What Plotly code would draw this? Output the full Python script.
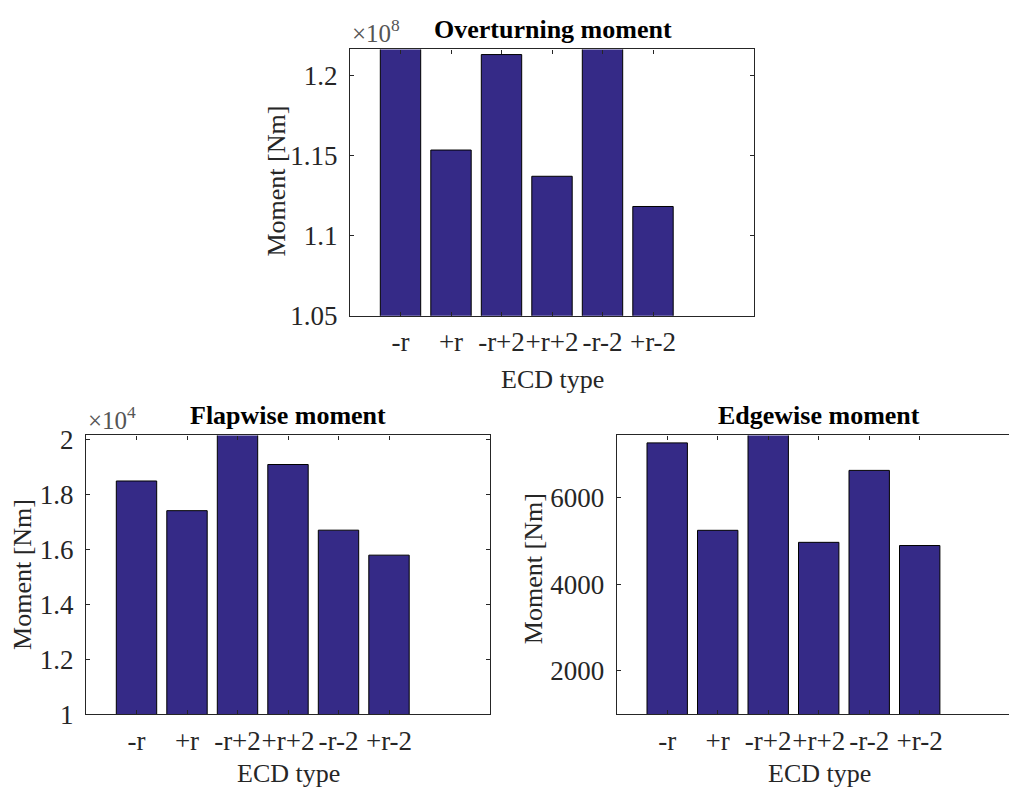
import plotly.graph_objects as go

categories = ["-r", "+r", "-r+2", "+r+2", "-r-2", "+r-2"]
overturning = [1.2250e8, 1.1536e8, 1.2133e8, 1.1372e8, 1.2250e8, 1.1183e8]
flapwise = [1.849e4, 1.741e4, 2.050e4, 1.909e4, 1.670e4, 1.579e4]
edgewise = [7272, 5251, 7600, 4973, 6636, 4899]

W, H = 1009, 807
FONT = "Liberation Serif"
TXT = "#262626"
BAR = "#352a87"
TICK = 27

xs = list(range(1, len(categories) + 1))

def px(x):
    return x / W

def py(y):
    return 1 - y / H

fig = go.Figure()
fig.add_trace(go.Bar(x=xs, y=[v / 1e8 for v in overturning], width=0.8,
                     marker=dict(color=BAR, line=dict(color="black", width=1)),
                     xaxis="x", yaxis="y"))
fig.add_trace(go.Bar(x=xs, y=[v / 1e4 for v in flapwise], width=0.8,
                     marker=dict(color=BAR, line=dict(color="black", width=1)),
                     xaxis="x2", yaxis="y2"))
fig.add_trace(go.Bar(x=xs, y=edgewise, width=0.8,
                     marker=dict(color=BAR, line=dict(color="black", width=1)),
                     xaxis="x3", yaxis="y3"))

def xax(domain, anchor):
    return dict(domain=domain, anchor=anchor, range=[0, 8], tickvals=xs, ticktext=categories,
                showline=True, linecolor=TXT, linewidth=1.2, mirror="ticks",
                ticks="inside", ticklen=4, tickcolor=TXT, showgrid=False, zeroline=False,
                tickangle=0,
                tickfont=dict(family=FONT, size=TICK, color=TXT), ticklabelstandoff=2)

def yax(domain, anchor, rng, tv, tt, mirror="ticks"):
    return dict(domain=domain, anchor=anchor, range=rng, tickvals=tv, ticktext=tt,
                showline=True, linecolor=TXT, linewidth=1.2, mirror=mirror,
                ticks="inside", ticklen=4, tickcolor=TXT, showgrid=False, zeroline=False,
                tickfont=dict(family=FONT, size=TICK, color=TXT), ticklabelstandoff=6)

top_x = [px(350), px(754)]
top_y = [py(315.5), py(40.7)]
fl_x = [px(86), px(490)]
bot_y = [py(726.7), py(439)]
ed_x = [px(616.7), 1.0]
ed_right = (1009 - 616.7) / 50.5

fig.update_layout(
    width=W, height=H, margin=dict(l=0, r=0, t=0, b=0),
    paper_bgcolor="white", plot_bgcolor="white", showlegend=False,
    xaxis=xax(top_x, "y"),
    yaxis=yax(top_y, "x", [1.05, 1.2165], [1.05, 1.1, 1.15, 1.2], ["1.05", "1.1", "1.15", "1.2"]),
    xaxis2=xax(fl_x, "y2"),
    yaxis2=yax(bot_y, "x2", [1.0, 2.015], [1, 1.2, 1.4, 1.6, 1.8, 2], ["1", "1.2", "1.4", "1.6", "1.8", "2"]),
    xaxis3=xax(ed_x, "y3"),
    yaxis3=yax(bot_y, "x3", [1000, 7445], [2000, 4000, 6000], ["2000", "4000", "6000"], mirror=False),
)
fig.layout.xaxis3.range = [0, ed_right]

ann = []
def title(text, x, y):
    ann.append(dict(text="<b>" + text + "</b>", x=px(x), y=py(y), xref="paper", yref="paper",
                    showarrow=False, xanchor="center", yanchor="middle",
                    font=dict(family=FONT, size=26, color="black")))

def label(text, x, y, angle=0):
    ann.append(dict(text=text, x=px(x), y=py(y), xref="paper", yref="paper", textangle=angle,
                    showarrow=False, xanchor="center", yanchor="middle",
                    font=dict(family=FONT, size=26, color=TXT)))

def expo(text, x, y):
    ann.append(dict(text=text, x=px(x), y=py(y), xref="paper", yref="paper",
                    showarrow=False, xanchor="left", yanchor="middle",
                    font=dict(family=FONT, size=25, color="#555555")))

title("Overturning moment", 553, 20)
title("Flapwise moment", 288, 418)
title("Edgewise moment", 819, 418)
label("ECD type", 552, 381)
label("ECD type", 288, 788)
label("ECD type", 819, 788)
label("Moment [Nm]", 277, 177, -90)
label("Moment [Nm]", 23, 583, -90)
label("Moment [Nm]", 533, 577, -90)
expo("×10<sup>8</sup>", 350, 22)
expo("×10<sup>4</sup>", 86, 421)
fig.update_layout(annotations=ann)

fig.write_html("out.html")
